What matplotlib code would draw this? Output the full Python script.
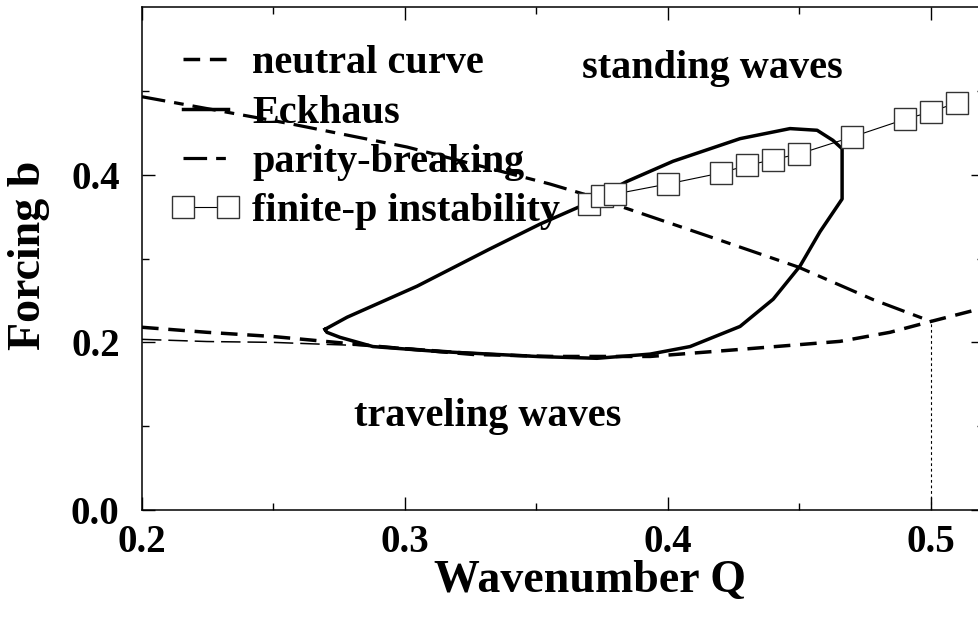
import numpy as np
import matplotlib
matplotlib.use("Agg")
from matplotlib import pyplot as plt
from matplotlib.lines import Line2D
from matplotlib.legend_handler import HandlerLine2D

plt.rcParams['font.family'] = ['Liberation Serif', 'DejaVu Serif']
plt.rcParams['font.weight'] = 'bold'
plt.rcParams['axes.labelweight'] = 'bold'
plt.rcParams['lines.scale_dashes'] = False

# neutral curve (thick dashed)
neutral_q = [0.2, 0.2247, 0.2498, 0.2703, 0.294, 0.3259, 0.3563, 0.3932, 0.4274, 0.4654, 0.4844, 0.5, 0.518]
neutral_b = [0.218, 0.212, 0.207, 0.201, 0.194, 0.1856, 0.1832, 0.1832, 0.1916, 0.2012, 0.212, 0.225, 0.2395]

# thin long-dashed branch at left
thin_q = [0.2, 0.2247, 0.2498, 0.2703, 0.294, 0.325, 0.356]
thin_b = [0.2036, 0.201, 0.200, 0.1976, 0.195, 0.188, 0.183]

# Eckhaus loop
eck_q = [0.2696, 0.278, 0.3046, 0.332, 0.3513, 0.3665, 0.3844, 0.4019, 0.4274, 0.4464,
         0.4567, 0.4627, 0.4662, 0.4662, 0.4578, 0.4502, 0.440, 0.4274, 0.4084, 0.3932,
         0.373, 0.3513, 0.3133, 0.2878, 0.2753, 0.2703, 0.2696]
eck_b = [0.2156, 0.230, 0.267, 0.311, 0.341, 0.362, 0.392, 0.416, 0.443, 0.455,
         0.453, 0.441, 0.431, 0.371, 0.332, 0.291, 0.2515, 0.219, 0.195, 0.186,
         0.181, 0.183, 0.189, 0.195, 0.206, 0.212, 0.2156]

# parity-breaking
par_q = [0.2, 0.256, 0.3008, 0.355, 0.37, 0.415, 0.4494, 0.478, 0.5]
par_b = [0.493, 0.461, 0.433, 0.389, 0.375, 0.327, 0.290, 0.251, 0.225]

# finite-p instability
fin_q = [0.37, 0.375, 0.38, 0.40, 0.42, 0.43, 0.44, 0.45, 0.47, 0.49, 0.50, 0.51]
fin_b = [0.365, 0.375, 0.377, 0.389, 0.402, 0.411, 0.418, 0.425, 0.445, 0.466, 0.475, 0.486]

fig = plt.figure(figsize=(9.79, 6.22), dpi=100)
ax = fig.add_axes([0.145, 0.180, 0.8597, 0.8087])

l1, = ax.plot(neutral_q, neutral_b, color='black', lw=2.5, dashes=(12, 7), label='neutral curve')
ax.plot(thin_q, thin_b, color='black', lw=1.1, dashes=(14, 5))
l2, = ax.plot(eck_q, eck_b, color='black', lw=2.5, label='Eckhaus')
l3, = ax.plot(par_q, par_b, color='black', lw=2.3, dashes=(17, 6.5, 7, 6.5), label='parity-breaking')
l4, = ax.plot(fin_q, fin_b, color='black', lw=0.8, marker='s', markersize=16,
              markerfacecolor='white', markeredgecolor='#333333', markeredgewidth=1.0,
              label='finite-p instability')
ax.plot([0.5, 0.5], [0.0, 0.225], color='black', lw=0.8, dashes=(2, 2))

ax.text(0.4167, 0.527, 'standing waves', fontsize=29, ha='center', va='center')
ax.text(0.3316, 0.111, 'traveling waves', fontsize=29, ha='center', va='center')

ax.set_xlim(0.2, 0.52)
ax.set_ylim(0.0, 0.6)
ax.set_xticks([0.2, 0.3, 0.4, 0.5])
ax.set_xticklabels(['0.2', '0.3', '0.4', '0.5'])
ax.set_xticks(np.arange(0.25, 0.52, 0.1), minor=True)
ax.set_yticks([0.0, 0.2, 0.4])
ax.set_yticklabels(['0.0', '0.2', '0.4'])
ax.set_yticks([0.1, 0.3, 0.5], minor=True)
ax.tick_params(which='both', direction='in', top=True, right=True, labelsize=28)
ax.tick_params(which='major', length=9.5, width=1.0)
ax.tick_params(which='minor', length=5, width=1.0)
ax.tick_params(axis='x', pad=10)
ax.tick_params(axis='y', pad=16)
for s in ax.spines.values():
    s.set_linewidth(1.1)

ax.set_xlabel('Wavenumber Q', fontsize=33, fontweight='bold')
ax.set_ylabel('Forcing b', fontsize=33, fontweight='bold')
ax.xaxis.set_label_coords(0.532, -0.10)
ax.yaxis.set_label_coords(-0.109, 0.507)

ax.legend(handles=[l1, l2, l3, l4], loc='upper left', bbox_to_anchor=(0.049, 0.924),
          frameon=False, fontsize=29, handlelength=1.12, handletextpad=0.6,
          labelspacing=0.30, borderpad=0, borderaxespad=0,
          handler_map={Line2D: HandlerLine2D(marker_pad=0, numpoints=2)})

fig.savefig('out.png', dpi=100)
